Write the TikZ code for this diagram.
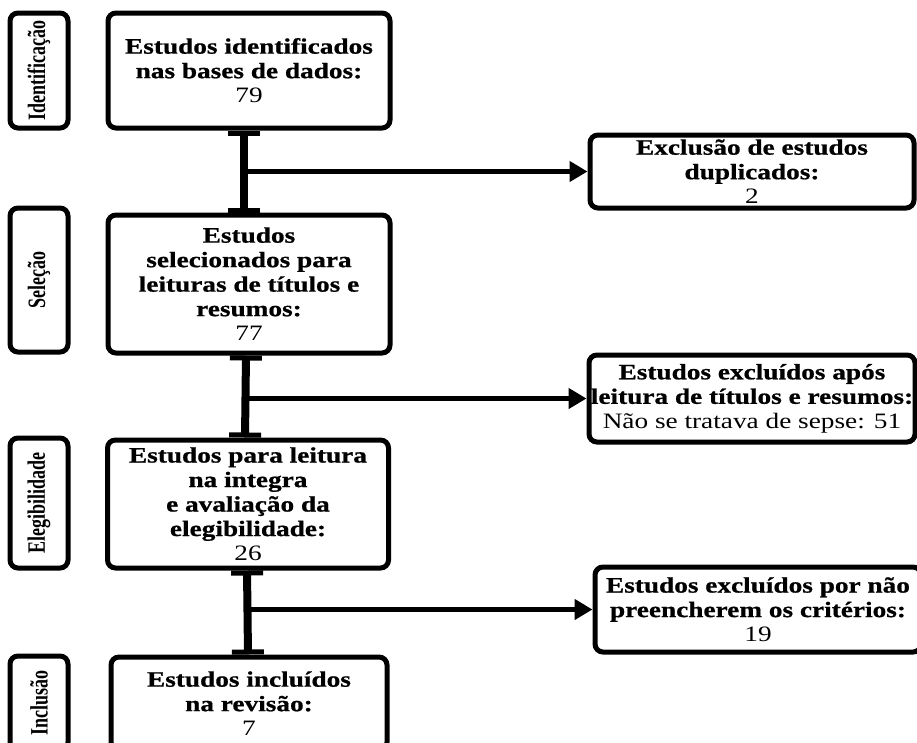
\documentclass[tikz,border=0pt]{standalone}
\usepackage{fontspec}
\setmainfont{Liberation Serif}
\newfontfamily\boxfont{Liberation Serif}[FakeStretch=1.24,BoldFeatures={FakeBold=0.8}]
\newfontfamily\sidefont{Liberation Serif Bold}[FakeStretch=0.72]
\usetikzlibrary{arrows.meta,positioning}

\begin{document}
\begin{tikzpicture}[x=1pt,y=-1pt,
  box/.style={draw,line width=5pt,rounded corners=8pt,inner sep=0pt,align=center,
              font=\boxfont\fontsize{22}{24.5}\selectfont},
  side/.style={draw,line width=5pt,rounded corners=8pt,rotate=90,inner sep=0pt,
               minimum height=58pt,font=\sidefont\fontsize{25}{25}\selectfont},
  link/.style={line width=8pt,{Rectangle[length=5pt,width=32pt]}-{Rectangle[length=5pt,width=32pt]}},
  arr/.style={line width=5pt,-{Triangle[length=18pt,width=20pt]}}
]
\useasboundingbox (0,0) rectangle (917,742);
\clip (0,0) rectangle (917,742);

\node[side,minimum width=115pt] (lid)   at (39,70.5) {Identificação};
\node[side,minimum width=144pt] (lsel)  at (39,280)  {Seleção};
\node[side,minimum width=130pt] (leleg) at (39,503)  {Elegibilidade};
\node[side,minimum width=94pt]  (linc)  at (39,703)  {Inclusão};

\node[box,minimum width=282pt,minimum height=115pt] (id) at (249,70.5)
  {\textbf{Estudos identificados}\\\textbf{nas bases de dados:}\\79};
\node[box,minimum width=282pt,minimum height=138pt] (sel) at (249,284)
  {\textbf{Estudos}\\\textbf{selecionados para}\\\textbf{leituras de títulos e}\\\textbf{resumos:}\\77};
\node[box,minimum width=281pt,minimum height=128pt] (eleg) at (248,504)
  {\textbf{Estudos para leitura}\\\textbf{na integra}\\\textbf{e avaliação da}\\\textbf{elegibilidade:}\\26};
\node[box,minimum width=276pt,minimum height=93pt] (inc) at (249,703.5)
  {\textbf{Estudos incluídos}\\\textbf{na revisão:}\\7};

\node[box,minimum width=324pt,minimum height=73pt] (exc1) at (752,171.5)
  {\textbf{Exclusão de estudos}\\\textbf{duplicados:}\\2};
\node[box,minimum width=326pt,minimum height=87pt] (exc2) at (752,398.5)
  {\textbf{Estudos excluídos após}\\\textbf{leitura de títulos e resumos:}\\Não se tratava de sepse: 51};
\node[box,minimum width=326pt,minimum height=85pt] (exc3) at (758,609.5)
  {\textbf{Estudos excluídos por não}\\\textbf{preencherem os critérios:}\\19};

\draw[link] ([xshift=-5pt]id.south) -- ([xshift=-5pt]sel.north);
\draw[link] ([xshift=-3pt]sel.south) -- ([xshift=-3pt]eleg.north);
\draw[link] ([xshift=-1pt]eleg.south) -- ([xshift=-1pt]inc.north);

\draw[arr] ([xshift=-5pt]exc1.west -| id.south) -- (exc1.west);
\draw[arr] ([xshift=-3pt]exc2.west -| sel.south) -- (exc2.west);
\draw[arr] ([xshift=-1pt]exc3.west -| eleg.south) -- (exc3.west);
\end{tikzpicture}
\end{document}
